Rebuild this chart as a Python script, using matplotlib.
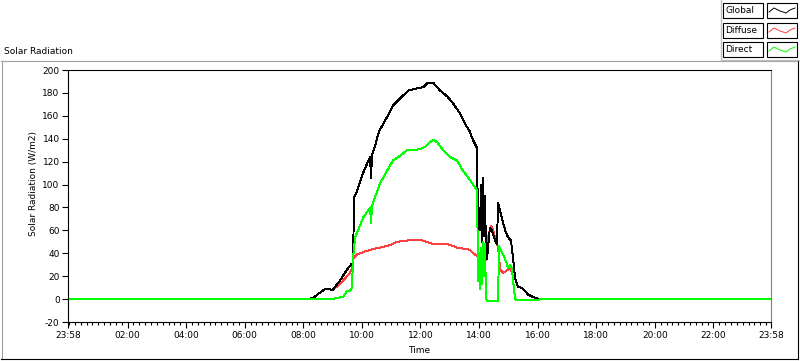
import matplotlib
matplotlib.use("Agg")
import matplotlib.pyplot as plt
from matplotlib.lines import Line2D
from matplotlib.patches import Rectangle

plt.rcParams['font.family'] = ['DejaVu Sans']
plt.rcParams['font.size'] = 6.5
plt.rcParams['axes.unicode_minus'] = False

W, H = 800, 361

# time in hours after midnight (axis runs from 23:58 to 23:58)
global_t = [-0.033, 8.13, 8.33, 8.64, 8.78, 9.01, 9.15, 9.25, 9.42, 9.53, 9.66, 9.70, 9.73, 9.80, 9.94,
            10.07, 10.28, 10.31, 10.35, 10.45, 10.58, 10.86, 11.06, 11.30, 11.58, 11.88, 12.09, 12.26, 12.43,
            12.67, 12.91, 13.11, 13.35, 13.52, 13.69, 13.79, 13.93, 13.97, 14.00, 14.03, 14.07, 14.10, 14.14,
            14.17, 14.20, 14.24, 14.27, 14.37, 14.44, 14.55, 14.61, 14.65, 14.78, 14.89, 14.99, 15.09, 15.16,
            15.23, 15.33, 15.50, 15.67, 15.91, 16.08, 23.967]
global_v = [0, 0, 1, 7, 9, 8, 13, 16, 23, 27, 31, 31, 89, 92, 103,
            112, 124, 106, 126, 134, 146, 159, 169, 175, 182, 184, 185, 189, 189,
            182, 177, 171, 162, 153, 146, 139, 132, 51, 80, 60, 100, 50, 106,
            55, 90, 40, 35, 62, 60, 51, 48, 84, 71, 60, 54, 51, 36,
            18, 11, 9, 4, 1, 0, 0]

diffuse_t = [-0.033, 8.13, 8.33, 8.64, 8.78, 9.01, 9.15, 9.32, 9.49, 9.59, 9.66, 9.70, 9.83, 10.04,
             10.28, 10.62, 10.96, 11.20, 11.54, 11.75, 11.98, 12.33, 12.43, 12.91, 13.25, 13.69, 13.79,
             13.93, 14.20, 14.24, 14.31, 14.41, 14.48, 14.58, 14.65, 14.72, 14.82, 14.95, 15.06, 15.13,
             15.16, 15.23, 15.33, 15.50, 15.67, 15.91, 16.08, 23.967]
diffuse_v = [0, 0, 1, 7, 9, 8, 11, 15, 20, 23, 27, 35, 39, 41,
             43, 45, 47, 50, 51, 52, 52, 49, 48, 48, 45, 43, 40,
             38, 35, 34, 54, 64, 60, 51, 45, 26, 23, 25, 27, 23,
             18, 18, 11, 9, 4, 1, 0, 0]

direct_t = [-0.033, 9.01, 9.15, 9.36, 9.49, 9.59, 9.66, 9.70, 9.77, 9.87, 10.04, 10.28, 10.31, 10.35,
            10.45, 10.62, 10.86, 11.06, 11.30, 11.54, 11.75, 11.98, 12.16, 12.33, 12.43, 12.57, 12.77,
            13.01, 13.25, 13.45, 13.69, 13.93, 13.97, 14.00, 14.03, 14.07, 14.10, 14.14, 14.17, 14.20,
            14.24, 14.27, 14.65, 14.68, 14.82, 14.95, 14.99, 15.06, 15.13, 15.16, 15.23, 15.26, 16.00,
            16.08, 23.967]
direct_v = [0, 0, 1, 2, 7, 7, 10, 36, 54, 60, 71, 80, 66, 82,
            89, 101, 112, 121, 125, 130, 130, 131, 133, 137, 139, 137, 130,
            124, 121, 112, 104, 95, 16, 40, 9, 45, 13, 50, 20, 48,
            1, -2, -2, 46, 39, 31, 27, 30, 26, 16, 1, -1, -1,
            0, 0]

tick_pos = [-0.033, 2, 4, 6, 8, 10, 12, 14, 16, 18, 20, 22, 23.967]
tick_lbl = ['23:58', '02:00', '04:00', '06:00', '08:00', '10:00', '12:00',
            '14:00', '16:00', '18:00', '20:00', '22:00', '23:58']

def fx(px):
    return px / W

def fy(py):
    return 1 - py / H

fig = plt.figure(figsize=(8, 3.61), dpi=100)
fig.patch.set_facecolor('white')

ax = fig.add_axes([fx(68), fy(322), (771 - 68) / W, (322 - 70) / H])
ax.plot(diffuse_t, diffuse_v, color='#ff4040', lw=0.7, antialiased=False)
ax.plot(global_t, global_v, color='black', lw=0.7, antialiased=False)
ax.plot(direct_t, direct_v, color='#00ff00', lw=0.7, antialiased=False)

ax.set_xlim(-0.033, 23.967)
ax.set_ylim(-20, 200)
ax.set_yticks(range(-20, 201, 20))
ax.set_xticks(tick_pos)
ax.set_xticklabels(tick_lbl)
ax.set_xticks([i * 0.2 for i in range(120)], minor=True)
ax.tick_params(axis='y', direction='out', length=4, width=0.8, pad=2)
ax.tick_params(axis='x', which='major', direction='out', length=4.5, width=0.8, pad=2)
ax.tick_params(axis='x', which='minor', direction='out', length=2.5, width=0.8)
for s in ['left', 'bottom', 'top']:
    ax.spines[s].set_color('black')
    ax.spines[s].set_linewidth(0.8)
ax.spines['right'].set_color('#808080')
ax.spines['right'].set_linewidth(0.8)
ax.set_xlabel('Time')
ax.set_ylabel('Solar Radiation (W/m2)')
ax.xaxis.set_label_coords(0.5, -0.095)
ax.yaxis.set_label_coords(-0.043, 0.55)

# outer frame
fig.add_artist(Line2D([fx(1), fx(798)], [fy(61), fy(61)], color='#a0a0a0', lw=0.8))
fig.add_artist(Line2D([fx(1.5), fx(1.5)], [fy(61), fy(359)], color='#a0a0a0', lw=0.8))
fig.add_artist(Line2D([fx(1), fx(798)], [fy(359), fy(359)], color='black', lw=0.8))
fig.add_artist(Line2D([fx(798), fx(798)], [fy(61), fy(359)], color='black', lw=0.8))

fig.text(fx(4), fy(51), 'Solar Radiation', va='center', ha='left')

# legend panel
fig.add_artist(Line2D([fx(721), fx(721)], [fy(0), fy(60)], color='#c0c0c0', lw=1))
fig.add_artist(Line2D([fx(721), fx(800)], [fy(60), fy(60)], color='#c0c0c0', lw=1))
names = ['Global', 'Diffuse', 'Direct']
colors = ['black', '#ff4040', '#00ff00']
tops = [3, 23, 42]
for name, c, top in zip(names, colors, tops):
    fig.add_artist(Rectangle((fx(723), fy(top + 15)), 40 / W, 15 / H, fill=False,
                             edgecolor='black', lw=0.8))
    fig.text(fx(725), fy(top + 7.5), name, va='center', ha='left')
    fig.add_artist(Rectangle((fx(767), fy(top + 15)), 30 / W, 15 / H, fill=False,
                             edgecolor='black', lw=0.8))
    sx = [769, 774, 780, 786, 790, 795]
    sy = [top + 9, top + 5, top + 8, top + 10, top + 7, top + 5]
    fig.add_artist(Line2D([fx(v) for v in sx], [fy(v) for v in sy], color=c, lw=0.7))

fig.savefig('out.png', dpi=100)
